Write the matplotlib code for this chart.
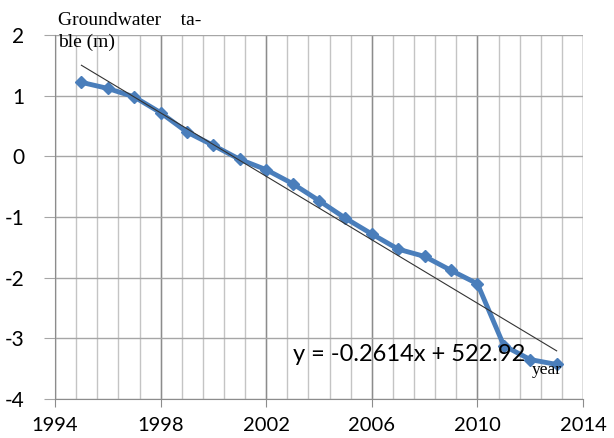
import numpy as np
import matplotlib
matplotlib.use('Agg')
import matplotlib.pyplot as plt

plt.rcParams['axes.unicode_minus'] = False

years = [1995, 1996, 1997, 1998, 1999, 2000, 2001, 2002, 2003, 2004,
         2005, 2006, 2007, 2008, 2009, 2010, 2011, 2012, 2013]
level = [1.22, 1.12, 0.98, 0.72, 0.40, 0.18, -0.05, -0.22, -0.45, -0.73,
         -1.02, -1.28, -1.53, -1.65, -1.88, -2.10, -3.12, -3.35, -3.43]
eq_text = 'y = -0.2614x + 522.92'
x_ticks = [1994, 1998, 2002, 2006, 2010, 2014]
y_ticks = [-4, -3, -2, -1, 0, 1, 2]

fig = plt.figure(figsize=(6.14, 4.38), dpi=100)
ax = fig.add_axes([0.0896, 0.089, 0.86, 0.831])

# grid: minor verticals every 0.8 year, major every 4 years
minor = np.arange(1994, 2014.01, 0.8)
for xv in minor:
    ax.axvline(xv, color='#c4c4c4', lw=1.0, zorder=0)
for xv in x_ticks:
    ax.axvline(xv, color='#8c8c8c', lw=1.0, zorder=0)
for yv in y_ticks:
    ax.axhline(yv, color='#a6a6a6', lw=1.0, zorder=0)

# trend line
coef = np.polyfit(years, level, 1)
tx = np.array([years[0], years[-1]])
ax.plot(tx, np.polyval(coef, tx), color='#333333', lw=0.8, zorder=3)

ax.plot(years, level, color='#4a7ebb', lw=3.5, marker='D', markersize=6,
        zorder=2)

ax.set_xlim(1994, 2014)
ax.set_ylim(-4, 2)
ax.set_xticks(x_ticks)
ax.set_yticks(y_ticks)
for s in ['top', 'right']:
    ax.spines[s].set_visible(False)
ax.spines['left'].set_color('#8c8c8c')
ax.spines['bottom'].set_color('#8c8c8c')
ax.tick_params(axis='x', length=6, color='#8c8c8c', labelsize=14.5, pad=7)
ax.tick_params(axis='y', length=8, color='#a6a6a6', labelsize=15, pad=14)
for lab in ax.get_xticklabels() + ax.get_yticklabels():
    lab.set_family('Lato')

ax.text(2003.0, -3.27, eq_text, fontsize=17, family='Lato', va='center',
        zorder=4)
ax.text(2012.05, -3.52, 'year', fontsize=12.5, family='Liberation Serif',
        va='center', zorder=4)
fig.text(0.094, 0.972, 'Groundwater    ta-\nble (m)', fontsize=14,
         family='Liberation Serif', va='top', ha='left', linespacing=1.3)

fig.savefig('out.png', dpi=100)
